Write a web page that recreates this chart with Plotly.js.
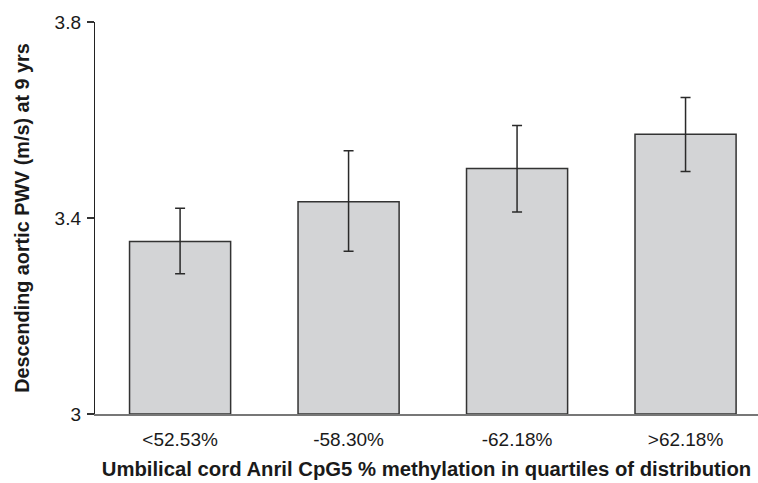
<!DOCTYPE html>
<html>
<head>
<meta charset="utf-8">
<script src="https://cdn.plot.ly/plotly-3.0.1.min.js"></script>
<style>html,body{margin:0;padding:0;background:#fff;}#chart{width:758px;height:483px;}</style>
</head>
<body>
<div id="chart"></div>
<script>
var categories = ["<52.53%", "-58.30%", "-62.18%", ">62.18%"];
var means = [3.352, 3.433, 3.501, 3.571];
var upperCI = [3.420, 3.537, 3.589, 3.646];
var lowerCI = [3.286, 3.332, 3.412, 3.495];
var yTickVals = [3, 3.4, 3.8];
var yTickText = ["3", "3.4", "3.8"];

var baseline = 3;
var errPlus = means.map(function (m, i) { return upperCI[i] - m; });
var errMinus = means.map(function (m, i) { return m - lowerCI[i]; });

var trace = {
  type: "bar",
  x: categories,
  y: means.map(function (m) { return m - baseline; }),
  base: baseline,
  width: 0.6,
  marker: { color: "#d3d4d6", line: { color: "#333333", width: 1.5 } },
  error_y: { type: "data", symmetric: false, array: errPlus, arrayminus: errMinus, color: "#2a2a2a", thickness: 1.5, width: 5 },
  hoverinfo: "none"
};

var font = "Liberation Sans, Arial, Helvetica, sans-serif";
var layout = {
  width: 758, height: 483,
  margin: { l: 95, r: 0, t: 22, b: 69 },
  paper_bgcolor: "#fff", plot_bgcolor: "#fff",
  showlegend: false,
  font: { family: font, color: "#1a1a1a", size: 19 },
  xaxis: {
    type: "category",
    range: [-0.505, 3.43],
    showline: true, linecolor: "#777777", linewidth: 1.5,
    ticks: "outside", ticklen: 8, tickcolor: "rgba(0,0,0,0)",
    showgrid: false, zeroline: false,
    tickfont: { size: 19, family: font, color: "#1a1a1a" },
    title: { text: "<b>Umbilical cord Anril CpG5 % methylation in quartiles of distribution</b>", font: { size: 20.3, family: font, color: "#1a1a1a" }, standoff: 12 }
  },
  yaxis: {
    range: [3, 3.8],
    tickvals: yTickVals, ticktext: yTickText,
    showline: true, linecolor: "#222222", linewidth: 1.2,
    ticks: "outside", ticklen: 7, tickcolor: "#333333", tickwidth: 1.2,
    ticklabelstandoff: 2,
    showgrid: false, zeroline: false,
    tickfont: { size: 19, family: font, color: "#1a1a1a" },
    title: { text: "<b>Descending aortic PWV (m/s) at 9 yrs</b>", font: { size: 19.8, family: font, color: "#1a1a1a" }, standoff: 19 }
  }
};
Plotly.newPlot("chart", [trace], layout, { staticPlot: true, displayModeBar: false });
</script>
</body>
</html>
